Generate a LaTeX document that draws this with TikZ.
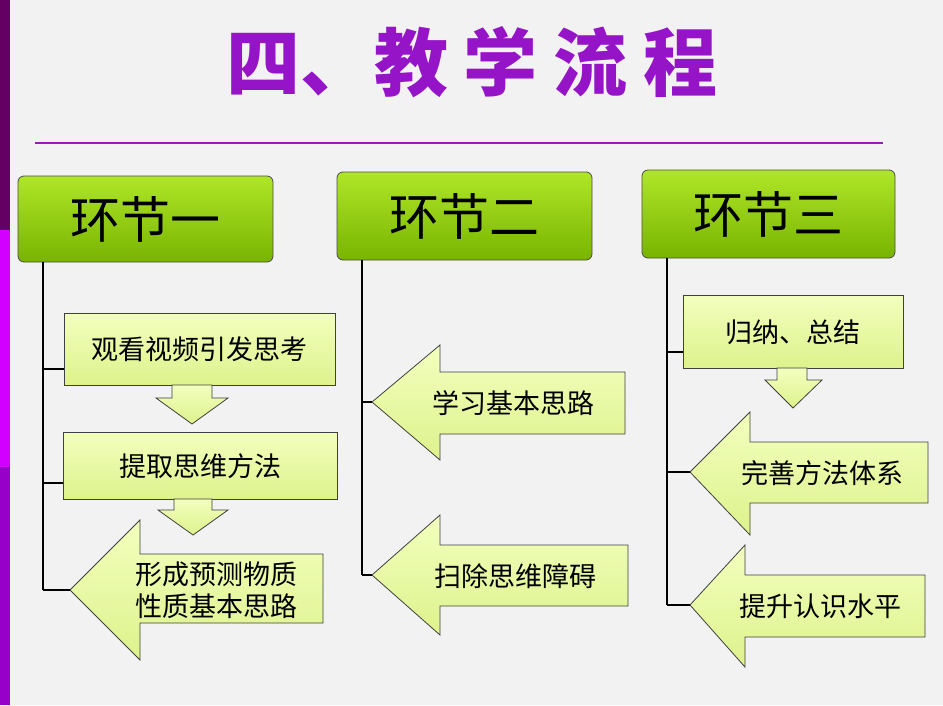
\documentclass[tikz,border=0pt]{standalone}
\usepackage{fontspec}
\newfontfamily\cjk{Noto Sans CJK SC}
\definecolor{ttl}{RGB}{150,20,200}
\definecolor{rule}{RGB}{150,30,180}
\definecolor{shtop}{RGB}{242,255,190}
\definecolor{shbot}{RGB}{222,242,140}
\definecolor{hdtop}{RGB}{175,230,40}
\definecolor{hdbot}{RGB}{120,180,0}
\definecolor{bar1}{RGB}{100,0,100}
\definecolor{bar2}{RGB}{210,0,255}
\definecolor{bar3}{RGB}{150,0,200}
\begin{document}
\begin{tikzpicture}[x=1pt,y=-1pt,
  hdr/.style={rounded corners=6pt,draw=black!70,line width=0.8pt,top color=hdtop,bottom color=hdbot},
  shp/.style={draw=black!75,line width=0.8pt,top color=shtop,bottom color=shbot},
  lnk/.style={line width=1.6pt,black},
  htxt/.style={font=\cjk\fontsize{50}{54}\selectfont,text=black},
  btxt/.style={font=\cjk\fontsize{27}{33}\selectfont,text=black,align=left}]
\fill[gray!10] (0,0) rectangle (943,705);
\useasboundingbox (0,0) rectangle (943,705);
\fill[bar1] (0,0) rectangle (10,230);
\fill[bar2] (0,230) rectangle (10,467);
\fill[bar3] (0,467) rectangle (10,705);
\node[font=\cjk\bfseries\fontsize{74}{78}\selectfont,text=ttl] (title) at (472,62) {四、教\hspace{16pt}学\hspace{16pt}流\hspace{16pt}程};
\draw[line width=1.2pt,rule] (35,143) -- (883,143);
% header boxes
\draw[hdr] (18,176) rectangle (273,262); \node[htxt] (h1) at (145.5,219) {环节一};
\draw[hdr] (337,172) rectangle (592,260); \node[htxt] (h2) at (464.5,216) {环节二};
\draw[hdr] (642,170) rectangle (895,258); \node[htxt] (h3) at (768.5,214) {环节三};
% column 1
\coordinate (c1t) at (43,262); \coordinate (c1b) at (43,590);
\draw[lnk] (c1t) -- (c1b);
\draw[shp] (64,313) rectangle (335,385); \node[btxt] (a1) at (199.5,349) {观看视频引发思考};
\draw[shp] (172,385) -- (212,385) -- (212,398) -- (228,398) -- (192,424) -- (156,398) -- (172,398) -- cycle;
\draw[shp] (63,432) rectangle (337,499); \node[btxt] (a2) at (200,466) {提取思维方法};
\draw[shp] (174,499) -- (212,499) -- (212,510) -- (228,510) -- (193,535) -- (158,510) -- (174,510) -- cycle;
\draw[shp] (70,590) -- (140,520) -- (140,554) -- (323,554) -- (323,623) -- (140,623) -- (140,660) -- cycle;
\node[btxt,font=\cjk\fontsize{27}{32}\selectfont] (a3) at (216,590) {形成预测物质\\性质基本思路};
\draw[lnk] (43,369) -- (64,369);
\draw[lnk] (43,483) -- (63,483);
\draw[lnk] (43,590) -- (70,590);
% column 2
\coordinate (c2t) at (362,260); \coordinate (c2b) at (362,575);
\draw[lnk] (c2t) -- (c2b);
\draw[shp] (372,402) -- (440,345) -- (440,372) -- (625,372) -- (625,434) -- (440,434) -- (440,460) -- cycle;
\node[btxt] (b1) at (513,403) {学习基本思路};
\draw[shp] (372,575) -- (440,515) -- (440,545) -- (628,545) -- (628,606) -- (440,606) -- (440,635) -- cycle;
\node[btxt] (b2) at (515,576) {扫除思维障碍};
\draw[lnk] (362,402) -- (372,402);
\draw[lnk] (362,575) -- (372,575);
% column 3
\coordinate (c3t) at (667,258); \coordinate (c3b) at (667,605);
\draw[lnk] (c3t) -- (c3b);
\draw[shp] (683,295) rectangle (903,368); \node[btxt] (d1) at (793,332) {归纳、总结};
\draw[shp] (777,368) -- (807,368) -- (807,380) -- (822,380) -- (793,408) -- (765,380) -- (777,380) -- cycle;
\draw[shp] (690,472) -- (750,412) -- (750,442) -- (928,442) -- (928,503) -- (750,503) -- (750,535) -- cycle;
\node[btxt] (d2) at (822,473) {完善方法体系};
\draw[shp] (690,605) -- (745,545) -- (745,575) -- (925,575) -- (925,637) -- (745,637) -- (745,667) -- cycle;
\node[btxt] (d3) at (820,606) {提升认识水平};
\draw[lnk] (667,352) -- (683,352);
\draw[lnk] (667,472) -- (690,472);
\draw[lnk] (667,605) -- (690,605);
\end{tikzpicture}
\end{document}
